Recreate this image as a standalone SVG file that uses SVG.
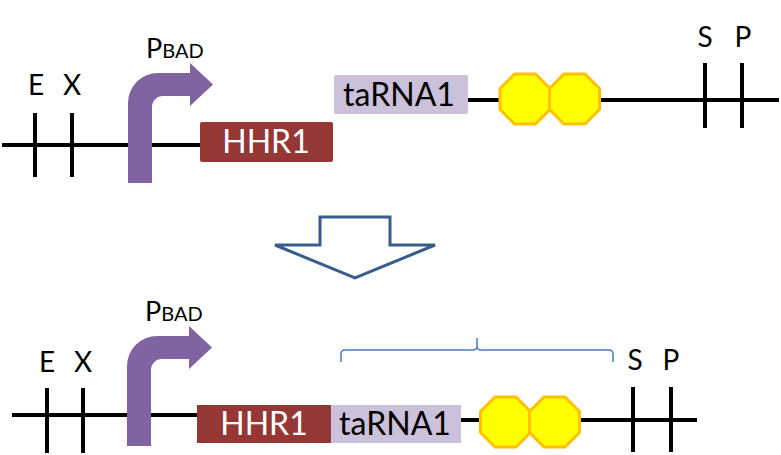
<svg xmlns="http://www.w3.org/2000/svg" width="781" height="455" viewBox="0 0 781 455">
<defs>
<style>
.dna{stroke:#000;stroke-width:4;fill:none}
.lbl{font-family:Lato,"Liberation Sans",sans-serif;font-size:28px;fill:#000;text-anchor:middle}
.p{font-family:Lato,"Liberation Sans",sans-serif;fill:#000}
.prom{fill:#8064A2}
.hhr{fill:#953735}
.ta{fill:#CCC1DA}
.boxt{font-family:Lato,"Liberation Sans",sans-serif;font-size:32px;text-anchor:middle}
.term{fill:#FFFF00;stroke:#FFC000;stroke-width:3}
</style>
<path id="promArrow" d="M128,183 L128,103 A30,30 0 0 1 158,73 L190,73 L190,63 L213,84.5 L190,106 L190,96 L163,96 A11,11 0 0 0 152,107 L152,183 Z"/>
<polygon id="oct" points="-10.5,-25 10.5,-25 25,-10.5 25,10.5 10.5,25 -10.5,25 -25,10.5 -25,-10.5"/>
</defs>
<rect width="781" height="455" fill="#fff"/>

<g id="connectors">
<line class="dna" x1="2" y1="145" x2="200" y2="145"/>
<line class="dna" x1="468" y1="100" x2="779" y2="100"/>
<line class="dna" x1="12" y1="415" x2="197" y2="415"/>
<line class="dna" x1="461" y1="420" x2="697" y2="420"/>
</g>

<g id="top-sites">
<line class="dna" x1="35" y1="113" x2="35" y2="177"/>
<line class="dna" x1="72" y1="113" x2="72" y2="177"/>
<text class="lbl" x="36" y="95">E</text>
<text class="lbl" x="72" y="95">X</text>
<line class="dna" x1="705" y1="63" x2="705" y2="128"/>
<line class="dna" x1="742" y1="63" x2="742" y2="128"/>
<text class="lbl" x="705" y="47">S</text>
<text class="lbl" x="743" y="47">P</text>
</g>

<g id="top-promoter">
<use href="#promArrow" class="prom"/>
<text class="p" x="146" y="58"><tspan font-size="27">P</tspan><tspan font-size="20">BAD</tspan></text>
</g>

<g id="top-hhr1">
<rect class="hhr" x="200" y="122" width="133" height="40" rx="2"/>
<text class="boxt" x="266" y="153" fill="#fff">HHR1</text>
</g>

<g id="top-tarna1">
<rect class="ta" x="334" y="75" width="134" height="39" rx="2"/>
<text class="boxt" x="399" y="106" fill="#000">taRNA1</text>
</g>

<g id="top-terminator">
<use href="#oct" class="term" x="525" y="99"/>
<use href="#oct" class="term" x="574.5" y="99"/>
</g>

<g id="transition-arrow">
<polygon points="320,217 390,217 390,245 435,245 355,278 275,245 320,245" fill="#fff" stroke="#385D8A" stroke-width="3" stroke-linejoin="miter"/>
</g>

<g id="bottom-sites">
<line class="dna" x1="47" y1="388" x2="47" y2="453"/>
<line class="dna" x1="83" y1="388" x2="83" y2="453"/>
<text class="lbl" x="47" y="372">E</text>
<text class="lbl" x="83" y="372">X</text>
<line class="dna" x1="633" y1="387" x2="633" y2="452"/>
<line class="dna" x1="671" y1="387" x2="671" y2="452"/>
<text class="lbl" x="635" y="370">S</text>
<text class="lbl" x="671" y="370">P</text>
</g>

<g id="bottom-promoter">
<use href="#promArrow" class="prom" transform="translate(-1,263)"/>
<text class="p" x="145" y="321"><tspan font-size="27">P</tspan><tspan font-size="20">BAD</tspan></text>
</g>

<g id="bottom-hhr1">
<rect class="hhr" x="197" y="405" width="136" height="38"/>
<text class="boxt" x="264" y="435" fill="#fff">HHR1</text>
</g>

<g id="bottom-tarna1">
<rect class="ta" x="331" y="405" width="130" height="38"/>
<text class="boxt" x="395" y="435" fill="#000">taRNA1</text>
</g>

<g id="bottom-terminator">
<use href="#oct" class="term" x="505.5" y="422"/>
<use href="#oct" class="term" x="554.5" y="422"/>
</g>

<g id="brace">
<path d="M341,362 L341,354 Q341,350 345,350 L473,350 Q477,350 477,346 L477,338 M477,346 Q477,350 481,350 L609,350 Q613,350 613,354 L613,362" fill="none" stroke="#4A7EBB" stroke-width="1.5"/>
</g>
</svg>
